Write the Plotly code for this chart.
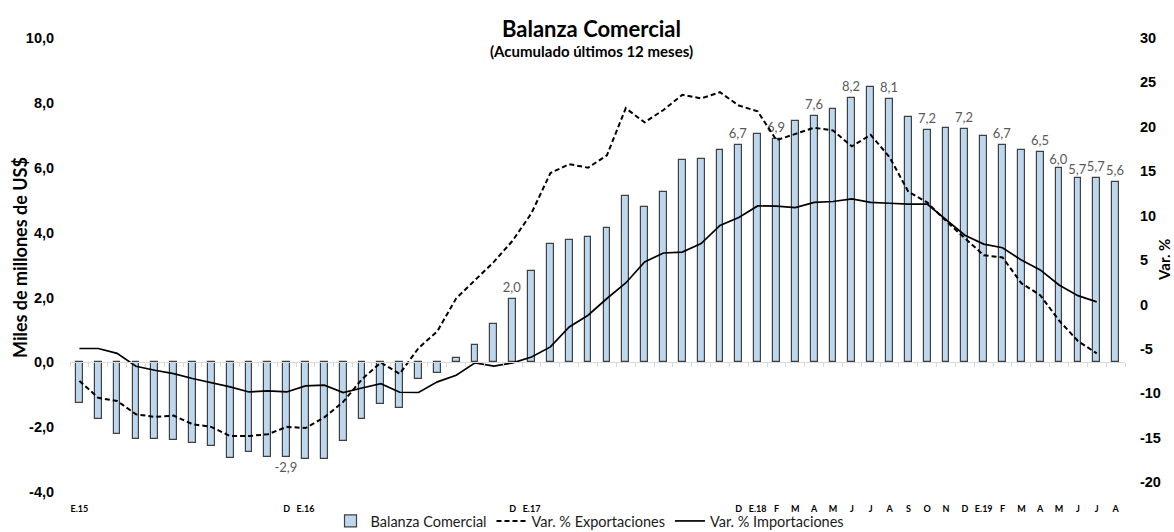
import plotly.graph_objects as go

# ---------------- data ----------------
x_idx = list(range(56))  # Jan-2015 ... Aug-2019

tick_idx = [0, 11, 12, 23, 24, 35, 36, 37, 38, 39, 40, 41, 42, 43, 44, 45, 46, 47,
            48, 49, 50, 51, 52, 53, 54, 55]
tick_text = ["E.15", "D", "E.16", "D", "E.17", "D", "E.18", "F", "M", "A", "M", "J",
             "J", "A", "S", "O", "N", "D", "E.19", "F", "M", "A", "M", "J", "J", "A"]

balanza = [
    -1.24, -1.76, -2.20, -2.37, -2.37, -2.39, -2.48, -2.57, -2.95, -2.77, -2.92, -2.91,
    -2.99, -2.97, -2.44, -1.76, -1.28, -1.41, -0.53, -0.33, 0.14, 0.52, 1.17, 1.96,
    2.81, 3.66, 3.76, 3.86, 4.14, 5.14, 4.79, 5.25, 6.25, 6.26, 6.54, 6.69,
    7.04, 6.88, 7.43, 7.60, 7.80, 8.16, 8.49, 8.13, 7.56, 7.17, 7.23, 7.18,
    6.97, 6.71, 6.54, 6.48, 6.00, 5.69, 5.69, 5.56]

exportaciones = [
    -8.6, -10.5, -10.85, -12.35, -12.65, -12.5, -13.47, -13.77, -14.8, -14.8, -14.6, -13.77,
    -13.9, -12.7, -10.96, -8.4, -6.53, -7.8, -4.9, -3.0, 0.7, 2.7, 4.8, 7.2,
    10.3, 14.8, 15.8, 15.4, 16.8, 22.1, 20.5, 21.9, 23.6, 23.2, 23.9, 22.4,
    21.75, 18.5, 19.2, 19.9, 19.6, 17.8, 19.1, 16.6, 12.7, 11.5, 9.4, 7.5,
    5.55, 5.3, 2.4, 1.05, -1.8, -4.1, -5.5, None]

importaciones = [
    -4.95, -4.95, -5.5, -6.95, -7.4, -7.77, -8.33, -8.78, -9.27, -9.84, -9.72, -9.84,
    -9.16, -9.08, -9.9, -9.39, -8.9, -9.87, -9.9, -8.7, -7.96, -6.57, -6.94, -6.57,
    -5.9, -4.77, -2.52, -1.2, 0.68, 2.43, 4.8, 5.8, 5.9, 6.86, 8.9, 9.8,
    11.1, 11.08, 10.9, 11.5, 11.6, 11.9, 11.5, 11.4, 11.3, 11.3, 9.5, 7.8,
    6.8, 6.4, 5.0, 3.9, 2.2, 1.0, 0.3, None]

label_idx = [11, 23, 35, 37, 39, 41, 43, 45, 47, 49, 51, 52, 53, 54, 55]

left_tick_vals = [-4, -2, 0, 2, 4, 6, 8, 10]
left_tick_text = ["-4,0", "-2,0", "0,0", "2,0", "4,0", "6,0", "8,0", "10,0"]
right_tick_vals = [-20, -15, -10, -5, 0, 5, 10, 15, 20, 25, 30]
right_tick_text = ["-20", "-15", "-10", "-5", "0", "5", "10", "15", "20", "25", "30"]

# ---------------- figure ----------------
bar_text = [(f"{v:.1f}".replace(".", ",") if i in label_idx else "")
            for i, v in enumerate(balanza)]

TXT = "Lato"
AX = "Liberation Sans"

fig = go.Figure()
fig.add_trace(go.Bar(
    x=x_idx, y=balanza, name="Balanza Comercial",
    marker=dict(color="#BDD7EE", line=dict(color="#404040", width=1.2)),
    width=0.36, text=bar_text, textposition="outside", constraintext="none",
    cliponaxis=False, textangle=0,
    textfont=dict(family=TXT, size=13, color="#595959"),
    yaxis="y",
))
fig.add_trace(go.Scatter(
    x=x_idx, y=exportaciones, name="Var. % Exportaciones", mode="lines",
    line=dict(color="black", width=2, dash="5px,3px"), yaxis="y2",
))
fig.add_trace(go.Scatter(
    x=x_idx, y=importaciones, name="Var. % Importaciones", mode="lines",
    line=dict(color="black", width=1.7), yaxis="y2",
))

fig.update_layout(
    width=1174, height=532,
    margin=dict(l=70, r=49, t=38, b=40, autoexpand=False),
    paper_bgcolor="white", plot_bgcolor="white",
    showlegend=True,
    legend=dict(orientation="h", xref="container", yref="container",
                x=590 / 1174, xanchor="center", y=11 / 532, yanchor="middle",
                font=dict(family=TXT, size=14.5, color="#1a1a1a"),
                itemwidth=30, tracegroupgap=0, bgcolor="rgba(0,0,0,0)"),
    xaxis=dict(range=[-0.5, 55.5], tickmode="array", tickvals=tick_idx, ticktext=tick_text,
               showgrid=False, zeroline=False, showline=False,
               ticks="outside", ticklen=8, tickcolor="rgba(0,0,0,0)",
               tickfont=dict(family=TXT, size=9, color="black", weight="bold")),
    xaxis2=dict(range=[-0.5, 55.5], overlaying="x", anchor="free",
                position=(492 - 362) / 454, side="bottom",
                showline=True, linecolor="#D9D9D9", linewidth=1,
                tickmode="array", tickvals=[i - 0.5 for i in range(57)],
                ticks="outside", ticklen=4, tickcolor="#D9D9D9",
                showticklabels=False, showgrid=False, zeroline=False),
    yaxis=dict(range=[-4, 10], tickmode="array", tickvals=left_tick_vals,
               ticktext=left_tick_text, showgrid=False, zeroline=False, showline=False,
               ticks="outside", ticklen=12, tickcolor="rgba(0,0,0,0)",
               tickfont=dict(family=AX, size=14.5, color="black", weight="bold")),
    yaxis2=dict(range=[-21.1, 30], overlaying="y", side="right", anchor="x",
                tickmode="array", tickvals=right_tick_vals, ticktext=right_tick_text,
                showgrid=False, zeroline=False, showline=False,
                ticks="outside", ticklen=11, tickcolor="rgba(0,0,0,0)",
                tickfont=dict(family=AX, size=14.5, color="black", weight="bold")),
    bargap=0,
)

# invisible helper trace so the zero-line axis is rendered
fig.add_trace(go.Scatter(x=[None], y=[None], xaxis="x2", yaxis="y",
                         showlegend=False, hoverinfo="skip"))

fig.add_annotation(text="Balanza Comercial", xref="paper", yref="paper",
                   x=(591 - 70) / 1055, y=1 + (38 - 28) / 454, xanchor="center",
                   yanchor="middle", showarrow=False,
                   font=dict(family=TXT, size=22, color="black", weight="bold"))
fig.add_annotation(text="(Acumulado últimos 12 meses)", xref="paper", yref="paper",
                   x=(591 - 70) / 1055, y=1 - (51 - 38) / 454, xanchor="center",
                   yanchor="middle", showarrow=False,
                   font=dict(family=TXT, size=15, color="black", weight="bold"))
fig.add_annotation(text="Miles de millones de US$", xref="paper", yref="paper",
                   x=(20 - 70) / 1055, y=(492 - 258) / 454, xanchor="center",
                   yanchor="middle", textangle=-90, showarrow=False,
                   font=dict(family=TXT, size=18, color="black", weight="bold"))
fig.add_annotation(text="Var. %", xref="paper", yref="paper",
                   x=(1164 - 70) / 1055, y=(492 - 260) / 454, xanchor="center",
                   yanchor="middle", textangle=-90, showarrow=False,
                   font=dict(family=TXT, size=15, color="black", weight="bold"))

fig.write_html(
    "out.html",
    config={"displayModeBar": False},
    post_script="document.body.style.margin='0';document.body.style.padding='0';"
                "document.body.style.overflow='hidden';",
)
